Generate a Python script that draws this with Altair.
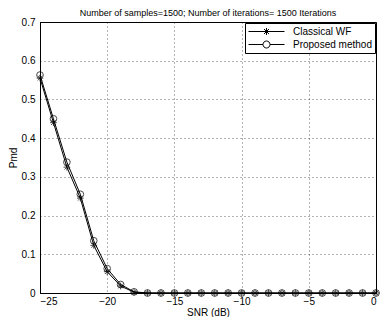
import altair as alt
import pandas as pd

snr = list(range(-25, 1))
classical = [0.555, 0.440, 0.325, 0.245, 0.123, 0.055, 0.018, 0.002] + [0.0] * 18
proposed = [0.563, 0.450, 0.338, 0.255, 0.135, 0.063, 0.022, 0.003] + [0.0] * 18
series_names = ["Classical WF", "Proposed method"]

rows = []
for s, vals in zip(series_names, [classical, proposed]):
    for x, v in zip(snr, vals):
        rows.append({"snr": x, "pmd": v, "series": s})
df = pd.DataFrame(rows)

ASTER = "M-1,0L1,0M0,-1L0,1M-0.7,-0.7L0.7,0.7M-0.7,0.7L0.7,-0.7"
LEG_ASTER = "M-3.6,0L3.6,0M0,-0.7L0,0.7M-0.5,-0.5L0.5,0.5M-0.5,0.5L0.5,-0.5"
LEG_CIRC = ("M-3.6,0L-0.7,0M0.7,0L3.6,0M0.7,0A0.7,0.7 0 1,1 -0.7,0"
            "A0.7,0.7 0 1,1 0.7,0Z")

x = alt.X("snr:Q", scale=alt.Scale(domain=[-25, 0], nice=False),
          axis=alt.Axis(title="SNR (dB)", values=[-25, -20, -15, -10, -5, 0]))
y = alt.Y("pmd:Q", scale=alt.Scale(domain=[0, 0.7], nice=False),
          axis=alt.Axis(title="Pmd", values=[0, 0.1, 0.2, 0.3, 0.4, 0.5, 0.6, 0.7], format="~g"))

lines = alt.Chart(df).mark_line(color="black", strokeWidth=1).encode(x=x, y=y, detail="series:N")

markers = alt.Chart(df).mark_point(filled=False, color="black", size=45, strokeWidth=1).encode(
    x=x, y=y,
    shape=alt.Shape("series:N", scale=alt.Scale(domain=series_names, range=[ASTER, "circle"]), legend=None),
)

legend_layer = alt.Chart(df).mark_point(filled=False, color="black", opacity=0, size=100, strokeWidth=1).encode(
    x=x, y=y,
    shape=alt.Shape("series:N", scale=alt.Scale(domain=series_names, range=[LEG_ASTER, LEG_CIRC]),
                    legend=alt.Legend(title=None, orient="top-right", offset=1, padding=3,
                                      strokeColor="black", fillColor="white",
                                      symbolOpacity=1, symbolStrokeColor="black", symbolFillColor="white",
                                      symbolStrokeWidth=1, symbolSize=100, symbolOffset=13,
                                      labelFontSize=10, labelFont="Liberation Sans",
                                      labelColor="black", rowPadding=2, labelOffset=21)),
)

chart = alt.layer(lines, markers, legend_layer).resolve_scale(shape="independent").properties(
    width=336, height=271,
    autosize=alt.AutoSizeParams(type="none"),
    padding={"left": 32, "top": 14, "right": 4, "bottom": 24},
    title=alt.TitleParams("Number of samples=1500; Number of iterations= 1500 Iterations",
                          fontSize=9, font="Liberation Sans", fontWeight="normal", color="black",
                          offset=-1, anchor="middle"),
).configure_view(stroke="black", strokeWidth=1).configure_axis(
    labelFont="Liberation Sans", labelFontSize=10, labelColor="black",
    titleFont="Liberation Sans", titleFontSize=10, titleFontWeight="normal", titleColor="black",
    domainColor="black", domainWidth=1, ticks=False, labelPadding=5,
    grid=True, gridColor="black", gridOpacity=0.6, gridDash=[1, 3], gridWidth=1,
).configure_axisY(titlePadding=3).configure_axisX(titlePadding=1, labelPadding=3)

chart.save("out.html", embed_options={"renderer": "svg", "actions": False})
